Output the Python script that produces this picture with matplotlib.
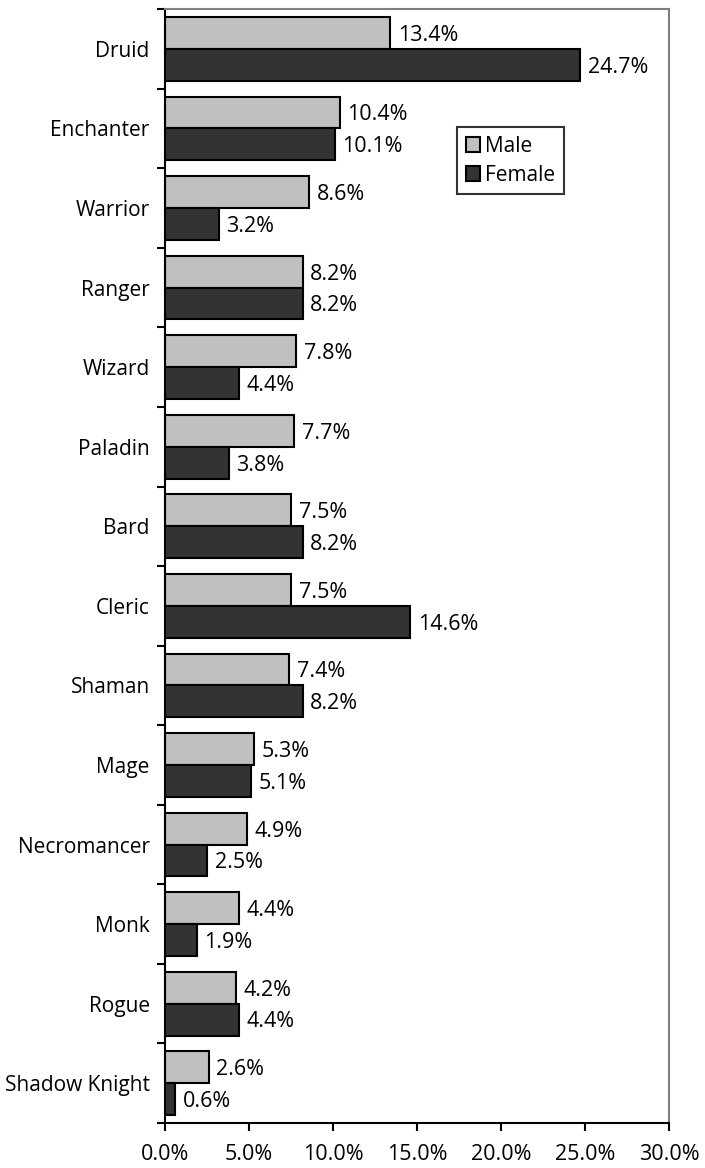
import numpy as np
import matplotlib
matplotlib.use("Agg")
import matplotlib.pyplot as plt
from matplotlib.ticker import FuncFormatter

classes = ["Druid", "Enchanter", "Warrior", "Ranger", "Wizard", "Paladin", "Bard",
           "Cleric", "Shaman", "Mage", "Necromancer", "Monk", "Rogue", "Shadow Knight"]
male = [13.4, 10.4, 8.6, 8.2, 7.8, 7.7, 7.5, 7.5, 7.4, 5.3, 4.9, 4.4, 4.2, 2.6]
female = [24.7, 10.1, 3.2, 8.2, 4.4, 3.8, 8.2, 14.6, 8.2, 5.1, 2.5, 1.9, 4.4, 0.6]

plt.rcParams["font.family"] = ["Open Sans", "DejaVu Sans"]

fig = plt.figure(figsize=(7.05, 11.68), dpi=100)
ax = fig.add_axes([0.234, 0.0385, 0.715, 0.9537])

n = len(classes)
pos = np.arange(n)
h = 0.4

# male bar sits above the female one in each group
ax.barh(pos - h / 2, male, height=h, color="#c0c0c0", edgecolor="black", linewidth=1.5, label="Male")
ax.barh(pos + h / 2, female, height=h, color="#333333", edgecolor="black", linewidth=1.5, label="Female")

for i in range(n):
    ax.text(male[i] + 0.45, pos[i] - h / 2 + 0.03, "%.1f%%" % male[i], va="center", ha="left", fontsize=15.5)
    ax.text(female[i] + 0.45, pos[i] + h / 2 + 0.03, "%.1f%%" % female[i], va="center", ha="left", fontsize=15.5)

ax.set_xlim(0, 30)
ax.set_ylim(n - 0.5, -0.5)
ax.set_xticks(np.arange(0, 31, 5))
ax.xaxis.set_major_formatter(FuncFormatter(lambda v, p: "%.1f%%" % v))
ax.set_yticks(np.arange(-0.5, n, 1.0))
ax.set_yticklabels([])
ax.set_yticks(pos, minor=True)
ax.set_yticklabels(classes, minor=True)
ax.tick_params(axis="y", which="minor", length=0, pad=11, labelsize=15)
ax.tick_params(axis="y", which="major", length=6, width=1.5, direction="out")
ax.tick_params(axis="x", length=6, width=1.5, direction="out", labelsize=15.5, pad=9)

for s in ["left", "bottom"]:
    ax.spines[s].set_linewidth(1.5)
for s in ["top", "right"]:
    ax.spines[s].set_color("#808080")
    ax.spines[s].set_linewidth(1.5)

leg = ax.legend(loc="upper left", bbox_to_anchor=(0.58, 0.894), fontsize=15, frameon=True,
                fancybox=False, edgecolor="black", handlelength=0.7, handleheight=0.7,
                handletextpad=0.25, borderpad=0.4, labelspacing=0.4, borderaxespad=0)
leg.get_frame().set_linewidth(1.5)

fig.savefig("out.png", dpi=100)
